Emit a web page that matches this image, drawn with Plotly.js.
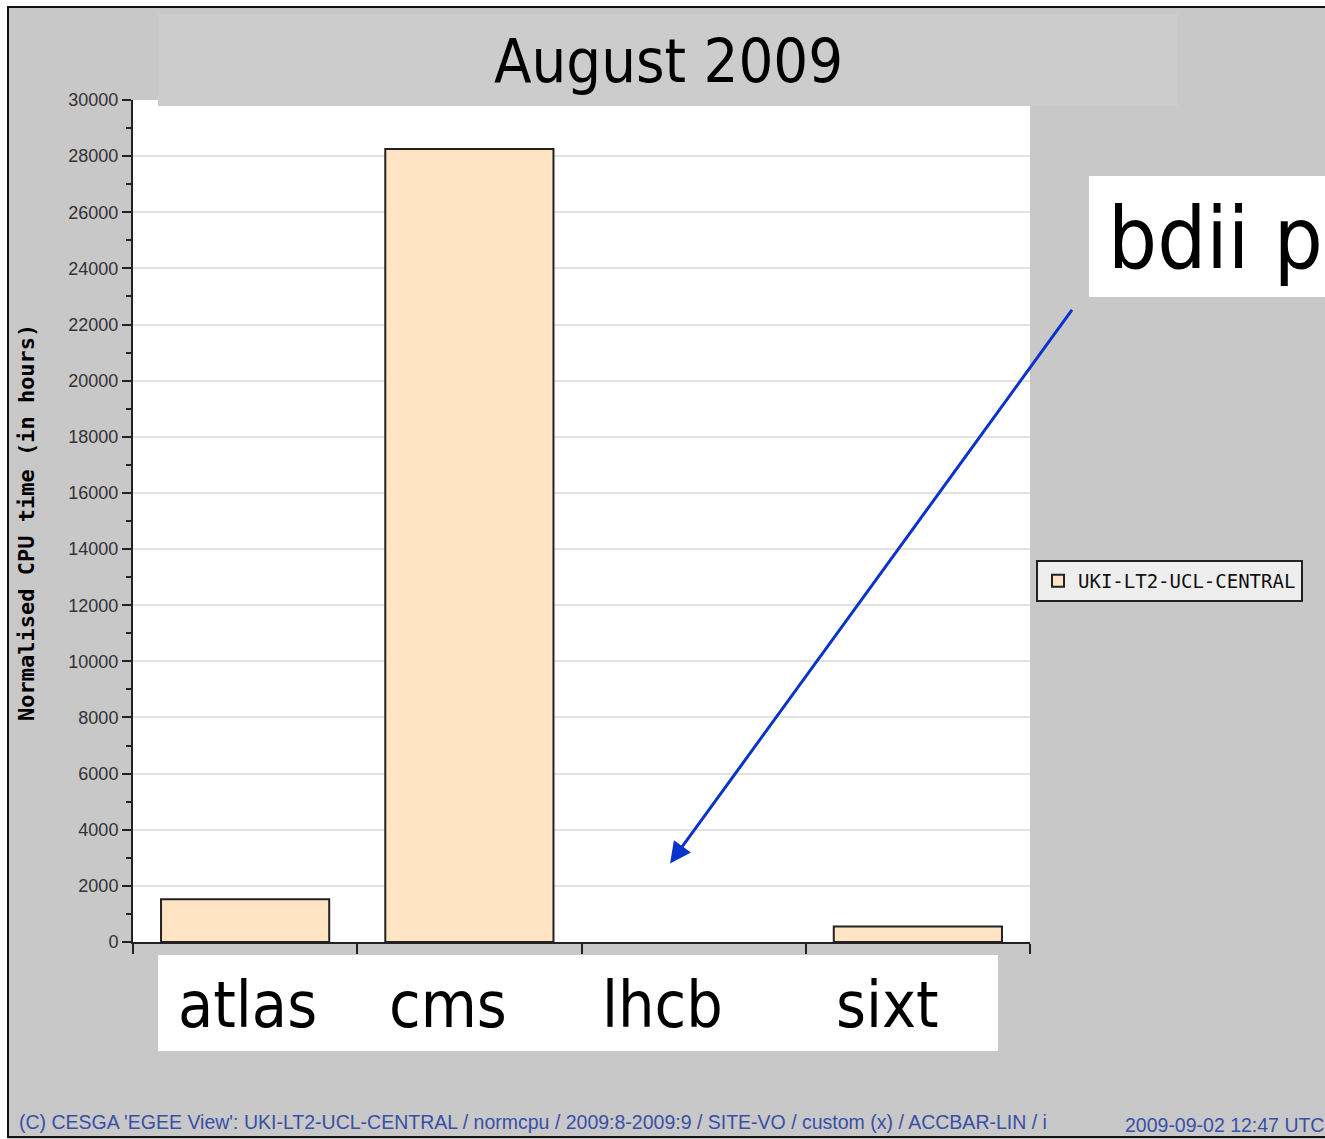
<!DOCTYPE html>
<html>
<head>
<meta charset="utf-8">
<script src="https://cdn.plot.ly/plotly-3.0.1.min.js"></script>
<style>html,body{margin:0;padding:0;background:#fff;}#chart{width:1325px;height:1139px;}</style>
</head>
<body>
<div id="chart"></div>
<script>
// ---- data ----
var categories = ["atlas", "cms", "lhcb", "sixt"];
var cpuHours = [1520, 28250, 0, 550];
var seriesName = "UKI-LT2-UCL-CENTRAL";
var chartTitle = "August 2009";
var yTitle = "Normalised CPU time (in hours)";
var bigLabels = ["atlas", "cms", "lhcb", "sixt"];
var calloutText = "bdii p";
var footerLeft = "(C) CESGA 'EGEE View': UKI-LT2-UCL-CENTRAL / normcpu / 2009:8-2009:9 / SITE-VO / custom (x) / ACCBAR-LIN / i";
var footerRight = "2009-09-02 12:47 UTC";

// ---- layout helpers (pixel -> paper) ----
var W = 1325, H = 1139;
var L = 133, R = 1030, T = 100, B = 942;
function px(x) { return (x - L) / (R - L); }
function py(y) { return (B - y) / (B - T); }

var trace = {
  type: "bar",
  x: categories,
  y: cpuHours,
  name: seriesName,
  width: 0.75,
  marker: {
    color: "#ffe4c4",
    line: { color: "#222", width: cpuHours.map(function (v) { return v > 0 ? 2 : 0; }) }
  },
  showlegend: true,
  hoverinfo: "x+y"
};

var bigFont = "'DejaVu Sans Condensed', 'DejaVu Sans', Verdana, sans-serif";
var footFont = "'Liberation Sans', Arial, sans-serif";
var labelX = [247, 448, 662, 887];
var annotations = [
  { xref: "paper", yref: "paper", x: px(668), y: py(60), text: chartTitle, showarrow: false,
    xanchor: "center", yanchor: "middle", font: { family: bigFont, size: 61, color: "#000" } },
  { xref: "paper", yref: "paper", x: px(1106), y: py(238), text: calloutText, showarrow: false,
    xanchor: "left", yanchor: "middle", font: { family: bigFont, size: 86, color: "#000" } },
  { xref: "paper", yref: "paper", x: px(17), y: py(1122), text: footerLeft, showarrow: false,
    xanchor: "left", yanchor: "middle", font: { family: footFont, size: 19.5, color: "#3a4fa6" } },
  { xref: "paper", yref: "paper", x: px(1326), y: py(1125), text: footerRight, showarrow: false,
    xanchor: "right", yanchor: "middle", font: { family: footFont, size: 19.5, color: "#3a4fa6" } },
  { xref: "paper", yref: "paper", x: px(26), y: py(523), text: yTitle, showarrow: false, textangle: -90,
    xanchor: "center", yanchor: "middle", font: { family: "'DejaVu Sans Mono', monospace", size: 22, color: "#000", weight: "bold" } },
  // arrow pointing to the lhcb slot
  { xref: "x", yref: "y", x: 1.895, y: 2800, ax: 403, ay: -555, axref: "pixel", ayref: "pixel",
    text: "", showarrow: true, arrowhead: 2, arrowsize: 1.4, arrowwidth: 3, arrowcolor: "#0a32cc" }
];
for (var i = 0; i < bigLabels.length; i++) {
  annotations.push({ xref: "paper", yref: "paper", x: px(labelX[i]), y: py(1005), text: bigLabels[i], showarrow: false,
    xanchor: "center", yanchor: "middle", font: { family: bigFont, size: 64, color: "#000" } });
}

var shapes = [
  { type: "rect", xref: "paper", yref: "paper", x0: px(0), x1: px(W), y0: py(0), y1: py(6), fillcolor: "#fff", line: { width: 0 }, layer: "above" },
  { type: "rect", xref: "paper", yref: "paper", x0: px(0), x1: px(8), y0: py(0), y1: py(H), fillcolor: "#fff", line: { width: 0 }, layer: "above" },
  { type: "rect", xref: "paper", yref: "paper", x0: px(8), x1: px(W + 5), y0: py(7), y1: py(1137), fillcolor: "rgba(0,0,0,0)", line: { color: "#111", width: 2 }, layer: "above" },
  { type: "rect", xref: "paper", yref: "paper", x0: px(158), x1: px(1178), y0: py(14), y1: py(106), fillcolor: "#cccccc", line: { width: 0 }, layer: "above" },
  { type: "rect", xref: "paper", yref: "paper", x0: px(158), x1: px(998), y0: py(955), y1: py(1051), fillcolor: "#ffffff", line: { width: 0 }, layer: "above" },
  { type: "rect", xref: "paper", yref: "paper", x0: px(1089), x1: px(W + 5), y0: py(176), y1: py(297), fillcolor: "#ffffff", line: { width: 0 }, layer: "above" }
];

var layout = {
  width: W, height: H,
  margin: { l: L, r: W - R, t: T, b: H - B, pad: 0 },
  paper_bgcolor: "#c8c8c8",
  plot_bgcolor: "#ffffff",
  showlegend: true,
  font: { family: "'Liberation Sans', Arial, sans-serif", color: "#333" },
  xaxis: {
    type: "category",
    range: [-0.5, 3.5],
    tickson: "boundaries",
    ticks: "outside", ticklen: 10, tickwidth: 2, tickcolor: "#222",
    showticklabels: false,
    showline: true, linecolor: "#222", linewidth: 2,
    showgrid: false, zeroline: false, fixedrange: true
  },
  yaxis: {
    range: [0, 30000],
    dtick: 2000, tick0: 0,
    tickformat: "d",
    ticks: "outside", ticklen: 9, tickwidth: 2, tickcolor: "#222",
    tickfont: { family: "'Liberation Sans', Arial, sans-serif", size: 18, color: "#333" },
    showline: true, linecolor: "#222", linewidth: 2,
    showgrid: true, gridcolor: "#e2e2e2", gridwidth: 2,
    zeroline: false, fixedrange: true,
    minor: { dtick: 1000, ticks: "outside", ticklen: 5, tickwidth: 2, tickcolor: "#222", showgrid: false }
  },
  legend: {
    x: px(1036), y: py(560), xanchor: "left", yanchor: "top",
    bgcolor: "#eeeeee", bordercolor: "#222", borderwidth: 2,
    font: { family: "'DejaVu Sans Mono', monospace", size: 19, color: "#111" },
    itemwidth: 30
  },
  annotations: annotations,
  shapes: shapes
};

Plotly.newPlot("chart", [trace], layout, { staticPlot: true, displayModeBar: false });
</script>
</body>
</html>
